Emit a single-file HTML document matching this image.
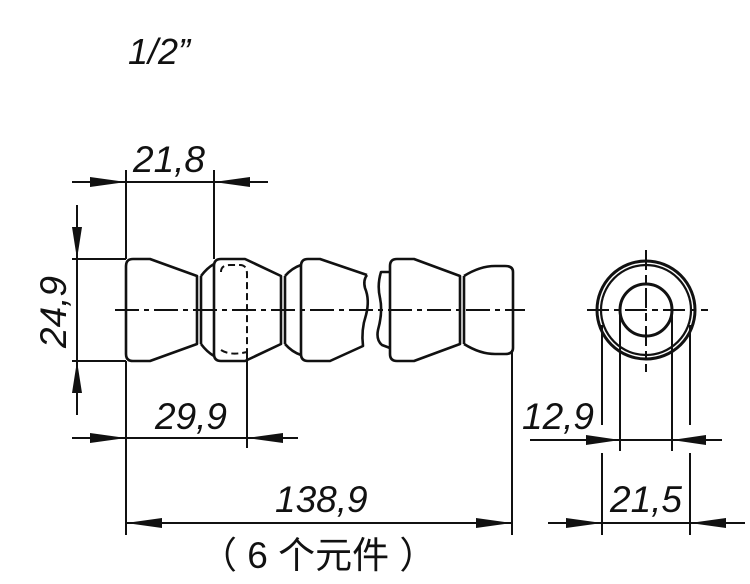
<!DOCTYPE html>
<html><head><meta charset="utf-8"><style>
html,body{margin:0;padding:0;background:#fff;}
svg{display:block}
text{font-family:"Liberation Sans","Noto Sans CJK SC",sans-serif;font-style:italic;fill:#111;}
</style></head><body>
<svg width="750" height="584" viewBox="0 0 750 584" xmlns="http://www.w3.org/2000/svg">
<text x="128" y="64" font-size="36">1/2”</text>
<g stroke="#111" stroke-width="2" fill="none">
<line x1="126" y1="170" x2="126" y2="259"/>
<line x1="214" y1="170" x2="214" y2="259"/>
<line x1="72" y1="182" x2="268" y2="182"/>
</g>
<path d="M90,177 L126,182 L90,187Z M250,177 L214,182 L250,187Z" fill="#111"/>
<text x="133" y="172" font-size="37">21,8</text>
<g stroke="#111" stroke-width="2" fill="none">
<line x1="77" y1="205" x2="77" y2="415"/>
<line x1="72" y1="259" x2="126" y2="259"/>
<line x1="72" y1="361" x2="126" y2="361"/>
</g>
<path d="M72,227 L77,259 L82,227Z M72,393 L77,361 L82,393Z" fill="#111"/>
<text transform="translate(66,312) rotate(-90)" text-anchor="middle" font-size="37">24,9</text>
<g stroke="#111" stroke-width="2" fill="none">
<line x1="126" y1="361" x2="126" y2="535"/>
<line x1="247" y1="355" x2="247" y2="448"/>
<line x1="72" y1="438" x2="298" y2="438"/>
<line x1="512" y1="350" x2="512" y2="535"/>
<line x1="126" y1="523" x2="512" y2="523"/>
</g>
<path d="M90,433 L126,438 L90,443Z M283,433 L247,438 L283,443Z" fill="#111"/>
<text x="155" y="429" font-size="37">29,9</text>
<path d="M162,518 L126,523 L162,528Z M476,518 L512,523 L476,528Z" fill="#111"/>
<text x="275" y="512" font-size="37">138,9</text>
<text x="200" y="568" font-size="37" style="font-style:normal">（ 6 个元件 ）</text>
<g stroke="#111" stroke-width="2.6" fill="none" stroke-linejoin="round">
<path d="M126,266 Q126,259 133,259 L150,259 L197,276 L197,344 L150,361 L133,361 Q126,361 126,354 Z"/>
<line x1="201" y1="276" x2="201" y2="344"/>
<path d="M201,276 Q207,268 214,264 M201,344 Q207,352 214,356"/>
<path d="M214,266 Q214,259 221,259 L245,259 L281,276 L281,344 L245,361 L221,361 Q214,361 214,354 Z"/>
<line x1="285" y1="276" x2="285" y2="344"/>
<path d="M285,276 Q292,268 301,265 M285,344 Q292,352 301,355"/>
<path d="M367,275 L320,259 L308,259 Q301,259 301,266 L301,354 Q301,361 308,361 L330,361 L363,346 Q361,330 366,315 Q370,300 365,288 Q363,280 367,275"/>
<path d="M390,272 L381,272 Q377,285 380,298 Q383,312 378,330 Q376,340 382,345 L390,348"/>
<path d="M390,266 Q390,259 397,259 L414,259 L460,276 L460,344 L414,361 L397,361 Q390,361 390,354 Z"/>
<line x1="464" y1="276" x2="464" y2="344"/>
<path d="M464,276 Q480,266 495,266 L505,266 Q513,266 513,272 L513,348 Q513,354 505,354 L495,354 Q480,354 464,344"/>
</g>
<g stroke="#111" stroke-width="2" fill="none">
<path d="M221,272 Q221,265 230,265 L240,265 Q247,265 247,274 L247,355 M221,350 Q230,356 247,352" stroke-dasharray="7,4"/>
<line x1="115" y1="310" x2="525" y2="310" stroke-dasharray="24,5,5,5"/>
</g>
<g stroke="#111" fill="none">
<circle cx="646" cy="310" r="49" stroke-width="3"/>
<circle cx="646" cy="310" r="45" stroke-width="2.2"/>
<circle cx="646" cy="310" r="26" stroke-width="3"/>
<g stroke-width="2">
<line x1="587" y1="310" x2="708" y2="310" stroke-dasharray="22,5,6,5"/>
<line x1="646" y1="250" x2="646" y2="372" stroke-dasharray="20,5,8,5"/>
<line x1="602" y1="325" x2="602" y2="425"/>
<line x1="690" y1="325" x2="690" y2="425"/>
<line x1="602" y1="453" x2="602" y2="535"/>
<line x1="690" y1="453" x2="690" y2="535"/>
<line x1="620" y1="310" x2="620" y2="451"/>
<line x1="672" y1="310" x2="672" y2="451"/>
<line x1="530" y1="440" x2="722" y2="440"/>
<line x1="548" y1="523" x2="745" y2="523"/>
</g>
</g>
<path d="M586,435 L620,440 L586,445Z M706,435 L672,440 L706,445Z" fill="#111"/>
<path d="M566,518 L602,523 L566,528Z M726,518 L690,523 L726,528Z" fill="#111"/>
<text x="522" y="429" font-size="37">12,9</text>
<text x="610" y="512" font-size="37">21,5</text>
</svg>
</body></html>
